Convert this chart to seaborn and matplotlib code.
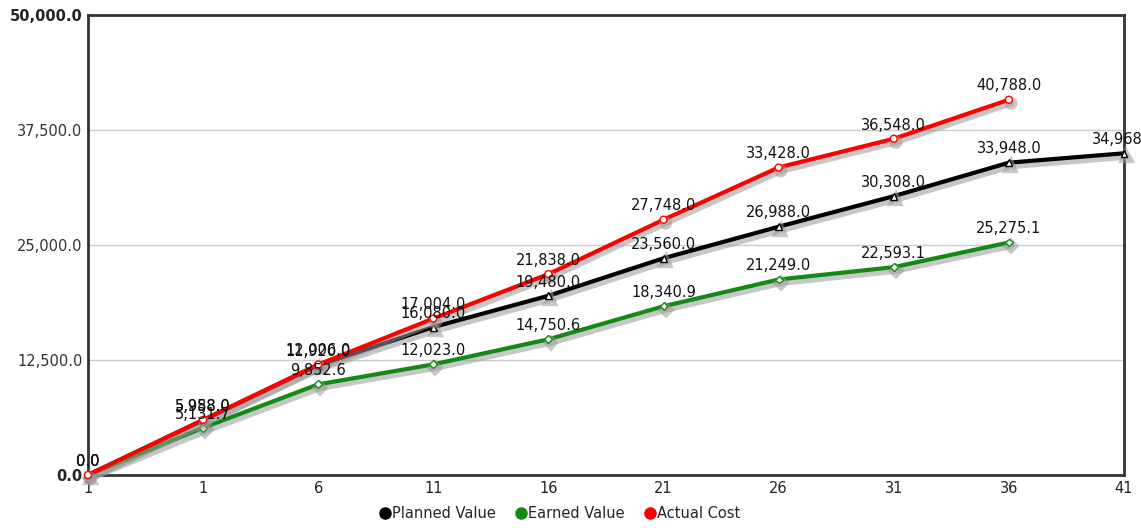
import matplotlib
matplotlib.use("Agg")
import matplotlib.pyplot as plt
import matplotlib.patheffects as pe
from matplotlib.lines import Line2D
import numpy as np
import pandas as pd
import seaborn as sns

# Reporting periods (category labels along the x axis)
periods = ["1", "1", "6", "11", "16", "21", "26", "31", "36", "41"]

planned_value = [0.0, 5958.0, 11920.0, 16080.0, 19480.0, 23560.0, 26988.0, 30308.0, 33948.0, 34968.0]
earned_value = [0.0, 5131.7, 9852.6, 12023.0, 14750.6, 18340.9, 21249.0, 22593.1, 25275.1]
actual_cost = [0.0, 5988.0, 12006.0, 17004.0, 21838.0, 27748.0, 33428.0, 36548.0, 40788.0]

y_ticks = [0, 12500, 25000, 37500, 50000]

series = [
    ("Planned Value", planned_value, "#000000", "^"),
    ("Earned Value", earned_value, "#138a13", "D"),
    ("Actual Cost", actual_cost, "#ff0000", "o"),
]

sns.set_theme(style="white")
plt.rcParams["font.family"] = ["DejaVu Sans"]

fig = plt.figure(figsize=(11.41, 5.28), dpi=100)
ax = fig.add_axes([0.0771, 0.1004, 0.9080, 0.8712])

shadow = [pe.SimpleLineShadow(offset=(1.5, -2.5), shadow_color="#9a9a9a", alpha=0.55,
                              linewidth=4.5),
          pe.Normal()]

for name, values, color, marker in series:
    df = pd.DataFrame({"pos": np.arange(len(values)), "value": values})
    sns.lineplot(data=df, x="pos", y="value", ax=ax, color=color, linewidth=3.0,
                 marker=marker, markersize=5 if marker != "D" else 4,
                 markerfacecolor="white", markeredgecolor=color, markeredgewidth=1.0,
                 path_effects=shadow, zorder=3, legend=False, clip_on=False)
    for i, v in enumerate(values):
        ax.annotate(f"{v:,.1f}", (i, v), xytext=(0, 4.5), textcoords="offset points",
                    ha="center", va="bottom", fontsize=10.5, color="#111111",
                    zorder=5, annotation_clip=False)

ax.set_xlim(0, len(periods) - 1)
ax.set_ylim(0, 50000)
ax.set_xticks(np.arange(len(periods)))
ax.set_xticklabels(periods, fontsize=10.5, color="#222222")
ax.set_yticks(y_ticks)
ax.set_yticklabels([f"{t:,.1f}" for t in y_ticks], fontsize=10.5, color="#333333")
for lbl, t in zip(ax.get_yticklabels(), y_ticks):
    if t in (0, 50000):
        lbl.set_fontweight("bold")
        lbl.set_color("#222222")
ax.tick_params(axis="both", length=0, pad=4)
ax.set_xlabel("")
ax.set_ylabel("")

ax.yaxis.grid(True, color="#cccccc", linewidth=1.0)
ax.xaxis.grid(False)
ax.set_axisbelow(True)
for sp in ax.spines.values():
    sp.set_visible(True)
    sp.set_color("#333333")
    sp.set_linewidth(2.0)

handles = [Line2D([0], [0], linestyle="none", marker="o", markersize=8,
                  markerfacecolor=c, markeredgecolor=c) for _, _, c, _ in series]
labels = [n for n, _, _, _ in series]
fig.legend(handles, labels, loc="lower center", bbox_to_anchor=(0.49, -0.012), ncol=3,
           frameon=False, fontsize=10.5, handletextpad=0.0, columnspacing=1.2,
           handlelength=1.0)

fig.savefig("out.png", dpi=100)
